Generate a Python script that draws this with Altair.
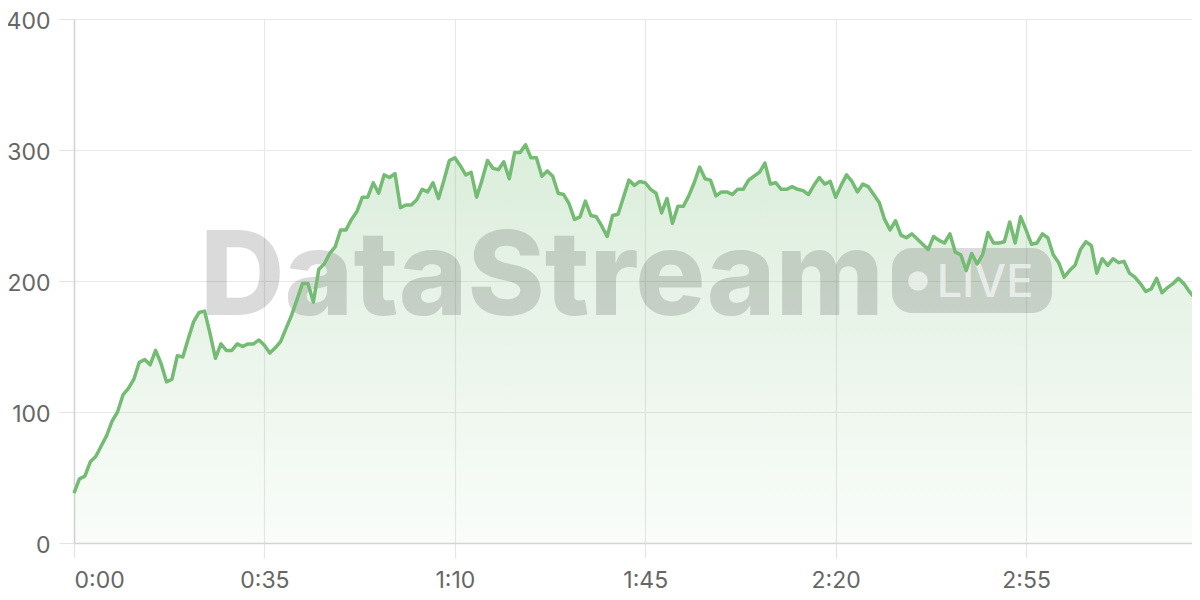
import altair as alt
import pandas as pd

# seconds since start, one sample per second
seconds = list(range(0, 207))
values = [
    38, 49, 51, 62, 66, 74, 82, 93, 100, 113, 118, 125, 138, 140, 136, 147, 137, 123, 125, 143,
    142, 156, 169, 176, 177, 160, 141, 152, 147, 147, 152, 150, 152, 152, 155, 151, 145, 149, 154, 164,
    174, 186, 198, 198, 184, 209, 213, 221, 226, 239, 239, 247, 253, 264, 264, 275, 267, 281, 279, 282,
    256, 258, 258, 262, 270, 268, 275, 263, 277, 292, 294, 288, 281, 283, 264, 277, 292, 286, 285, 291,
    278, 298, 298, 304, 294, 294, 280, 284, 280, 267, 266, 259, 247, 249, 261, 250, 249, 242, 234, 250,
    251, 264, 277, 273, 276, 275, 270, 267, 252, 263, 244, 257, 257, 265, 275, 287, 278, 277, 265, 268,
    268, 266, 270, 270, 277, 280, 283, 290, 274, 275, 270, 270, 272, 270, 269, 266, 273, 279, 274, 276,
    264, 273, 281, 276, 268, 274, 272, 266, 260, 247, 239, 246, 235, 233, 236, 232, 228, 224, 234, 231,
    229, 236, 222, 220, 208, 221, 213, 220, 237, 229, 229, 230, 245, 229, 249, 239, 228, 229, 236, 233,
    220, 214, 203, 208, 212, 224, 230, 227, 206, 217, 212, 217, 214, 215, 206, 203, 198, 192, 194, 202,
    191, 195, 198, 202, 198, 192, 187,
]
x_ticks = [0, 35, 70, 105, 140, 175]
y_ticks = [0, 100, 200, 300, 400]

df = pd.DataFrame({"t": seconds, "v": values})

LINE = "#74bb74"
FONT = "Inter"
W, H = 1118, 524

x_enc = alt.X(
    "t:Q",
    scale=alt.Scale(domain=[0, 205.5], nice=False, zero=False),
    axis=alt.Axis(
        values=x_ticks,
        labelExpr="floor(datum.value/60) + ':' + (datum.value%60 < 10 ? '0' : '') + (datum.value%60)",
        title=None,
    ),
)
y_enc = alt.Y(
    "v:Q",
    scale=alt.Scale(domain=[0, 400], nice=False),
    axis=alt.Axis(values=y_ticks, title=None, labelOffset=2),
)

area = alt.Chart(df).mark_area(
    interpolate="linear",
    color=alt.Gradient(
        gradient="linear",
        stops=[
            alt.GradientStop(color="rgba(116,187,116,0.04)", offset=0),
            alt.GradientStop(color="rgba(116,187,116,0.26)", offset=1),
        ],
        x1=1, x2=1, y1=1, y2=0,
    ),
).encode(x=x_enc, y=y_enc)

one = alt.Data(values=[{"a": 1}])

wm_text = alt.Chart(one).mark_text(
    text="DataStream", font=FONT, fontSize=117, fontWeight=800,
    align="center", baseline="alphabetic", color="black", opacity=0.14,
).encode(x=alt.value(468), y=alt.value(296))

pill = alt.Chart(one).mark_rect(
    cornerRadius=20, color="black", opacity=0.14,
).encode(x=alt.value(818), x2=alt.value(978), y=alt.value(229), y2=alt.value(294))

dot = alt.Chart(one).mark_circle(
    color="white", opacity=0.6, size=390,
).encode(x=alt.value(844), y=alt.value(262))

live = alt.Chart(one).mark_text(
    text="LIVE", font=FONT, fontSize=45, fontWeight=500,
    align="center", baseline="alphabetic", color="white", opacity=0.6,
).encode(x=alt.value(911), y=alt.value(278))

line = alt.Chart(df).mark_line(
    color=LINE, strokeWidth=3.5, interpolate="linear", strokeJoin="round",
).encode(x=x_enc, y=y_enc)

chart = alt.layer(area, wm_text, pill, dot, live, line).properties(
    width=W, height=H,
    autosize=alt.AutoSizeParams(type="none"),
    padding={"left": 66, "top": 11, "right": 0, "bottom": 49},
).configure_view(stroke=None).configure_axis(
    labelFont=FONT, labelFontSize=23, labelColor="#666666",
    gridColor="#e8e8e8", gridWidth=1.2,
    tickColor="#e4e4e4", tickSize=15, tickWidth=1.2,
    domainColor="#d4d4d4", domainWidth=1.5,
).configure_axisX(labelPadding=11).configure_axisY(labelPadding=9)

chart.save("out.html", embed_options={"renderer": "svg", "actions": False})
